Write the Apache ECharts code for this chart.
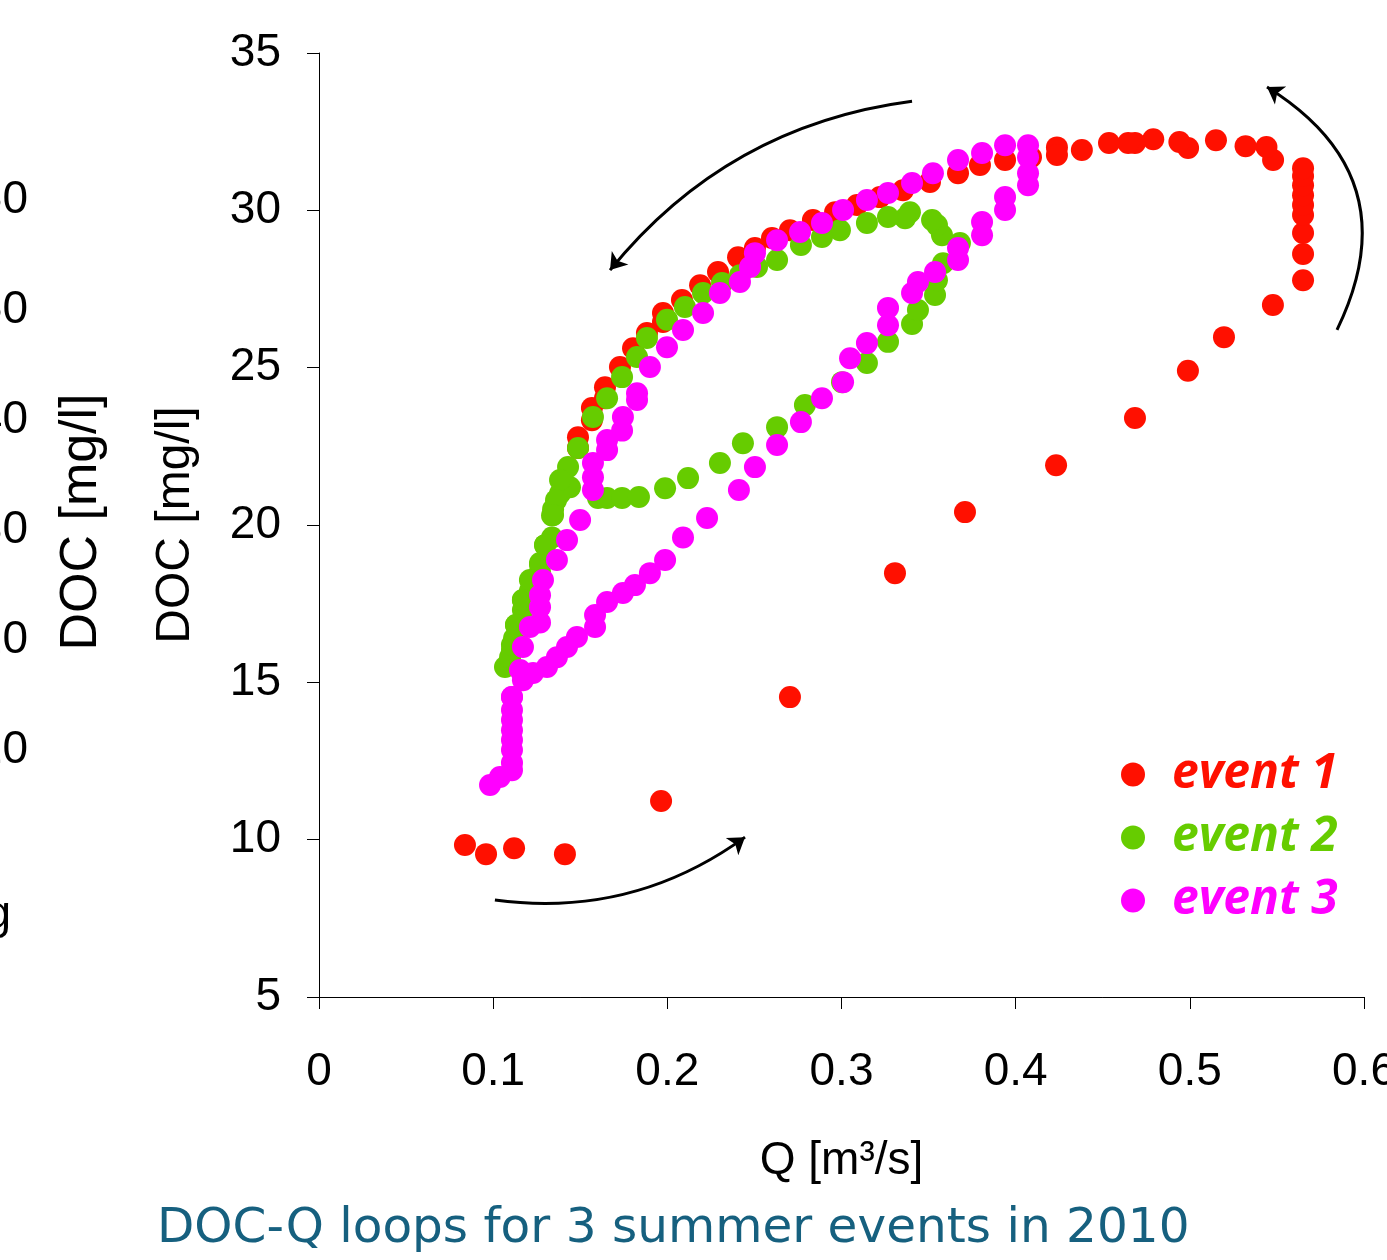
<!DOCTYPE html>
<html>
<head>
<meta charset="utf-8">
<script src="https://cdn.jsdelivr.net/npm/echarts@6/dist/echarts.min.js"></script>
<style>
  html, body { margin: 0; padding: 0; background: #fff; overflow: hidden; }
  #chart { width: 1387px; height: 1260px; }
</style>
</head>
<body>
<div id="chart"></div>
<script>
// Q [m3/s] and DOC [mg/l]
const event1Q = [0.0838, 0.0959, 0.112, 0.1412, 0.1964, 0.2704, 0.3307, 0.3709, 0.4232, 0.4685, 0.4989, 0.5196, 0.5477, 0.565, 0.565, 0.565, 0.565, 0.565, 0.565, 0.565, 0.565, 0.565, 0.5478, 0.544, 0.532, 0.515, 0.499, 0.494, 0.479, 0.4685, 0.4646, 0.4536, 0.438, 0.4237, 0.4237, 0.4088, 0.3939, 0.3795, 0.3669, 0.3508, 0.3353, 0.3221, 0.3089, 0.2963, 0.2836, 0.2704, 0.2601, 0.2503, 0.2406, 0.2291, 0.2188, 0.2084, 0.1975, 0.1975, 0.1883, 0.1803, 0.1728, 0.1642, 0.1642, 0.1567, 0.1567, 0.1487, 0.1487]
const event1Doc = [9.83, 9.54, 9.73, 9.54, 11.23, 14.53, 18.47, 20.41, 21.9, 23.4, 24.9, 25.97, 26.99, 27.78, 28.61, 29.28, 29.85, 30.17, 30.48, 30.8, 31.09, 31.34, 31.6, 32.01, 32.04, 32.23, 31.98, 32.17, 32.26, 32.14, 32.14, 32.14, 31.92, 32.0, 31.76, 31.69, 31.6, 31.44, 31.18, 30.9, 30.64, 30.42, 30.17, 29.94, 29.69, 29.37, 29.12, 28.8, 28.51, 28.04, 27.62, 27.15, 26.74, 26.45, 26.1, 25.62, 25.02, 24.38, 24.03, 23.72, 23.33, 22.79, 22.45]

const event2Q = [0.1068, 0.1097, 0.1097, 0.1108, 0.112, 0.1131, 0.1171, 0.1171, 0.1211, 0.1229, 0.1269, 0.1269, 0.1298, 0.1338, 0.1338, 0.1344, 0.1384, 0.1395, 0.1441, 0.1602, 0.1654, 0.174, 0.1837, 0.1987, 0.2119, 0.2302, 0.2434, 0.263, 0.279, 0.3003, 0.3146, 0.3267, 0.3405, 0.3439, 0.3537, 0.3548, 0.3583, 0.368, 0.3577, 0.3548, 0.352, 0.3393, 0.3365, 0.3267, 0.3146, 0.2991, 0.2888, 0.2767, 0.263, 0.2515, 0.2417, 0.2314, 0.2205, 0.2101, 0.1998, 0.1883, 0.1826, 0.174, 0.1654, 0.1573, 0.1487, 0.143, 0.1384, 0.1361, 0.1344, 0.1298, 0.1269, 0.1211, 0.1171, 0.1131, 0.1108]
const event2Doc = [15.49, 15.55, 15.8, 16.03, 16.4, 16.82, 17.3, 17.62, 17.9, 18.25, 18.5, 18.79, 19.36, 19.6, 20.3, 20.5, 21.0, 21.43, 21.2, 20.86, 20.86, 20.86, 20.89, 21.17, 21.49, 21.97, 22.6, 23.11, 23.81, 24.54, 25.15, 25.82, 26.39, 26.83, 27.31, 27.78, 28.32, 28.96, 29.21, 29.53, 29.69, 29.94, 29.75, 29.79, 29.6, 29.37, 29.15, 28.9, 28.42, 28.2, 27.94, 27.69, 27.37, 26.93, 26.52, 25.94, 25.34, 24.7, 24.03, 23.43, 22.45, 21.84, 21.43, 20.79, 20.32, 19.36, 18.73, 18.25, 17.62, 16.82, 16.19]

const event3Q = [0.0982, 0.1039, 0.1108, 0.1108, 0.1108, 0.1108, 0.1108, 0.1108, 0.1108, 0.1108, 0.1171, 0.1229, 0.1309, 0.1366, 0.1424, 0.1481, 0.1585, 0.1585, 0.1654, 0.1745, 0.1814, 0.19, 0.1987, 0.209, 0.2228, 0.2411, 0.2503, 0.263, 0.2767, 0.2888, 0.3009, 0.3049, 0.3146, 0.3267, 0.3267, 0.3405, 0.3439, 0.3537, 0.3669, 0.3669, 0.3807, 0.3807, 0.3939, 0.3939, 0.4071, 0.4071, 0.4071, 0.4071, 0.3939, 0.3807, 0.3669, 0.3525, 0.3405, 0.3267, 0.3146, 0.3009, 0.2888, 0.2762, 0.263, 0.2503, 0.2475, 0.2417, 0.2302, 0.2205, 0.209, 0.1998, 0.19, 0.1826, 0.1826, 0.1745, 0.174, 0.1654, 0.1654, 0.1573, 0.1573, 0.1573, 0.1499, 0.1424, 0.1366, 0.1286, 0.1269, 0.1269, 0.1269, 0.1211, 0.1171, 0.1154, 0.1108]
const event3Doc = [11.74, 11.99, 12.21, 12.44, 12.85, 13.17, 13.48, 13.8, 14.12, 14.53, 15.07, 15.3, 15.49, 15.8, 16.12, 16.44, 16.76, 17.14, 17.55, 17.84, 18.09, 18.47, 18.89, 19.6, 20.22, 21.11, 21.84, 22.54, 23.27, 24.03, 24.54, 25.3, 25.78, 26.35, 26.9, 27.37, 27.72, 28.04, 28.42, 28.8, 29.21, 29.63, 30.01, 30.42, 30.8, 31.18, 31.69, 32.07, 32.07, 31.82, 31.6, 31.18, 30.87, 30.55, 30.33, 30.01, 29.6, 29.31, 29.05, 28.64, 28.2, 27.72, 27.37, 26.74, 26.2, 25.65, 25.02, 24.19, 23.97, 23.43, 23.0, 22.7, 22.38, 21.97, 21.52, 21.11, 20.16, 19.52, 18.89, 18.25, 17.77, 17.39, 16.9, 16.76, 16.12, 15.39, 14.53]

const eventNames = ['event 1', 'event 2', 'event 3']
const eventColors = ['#ff1000', '#66cc00', '#ff00ff']

// hand-drawn direction arrows, start and end in data units
const arrowFrom = [[0.3405, 33.47], [0.101, 8.08], [0.5845, 26.2]]
const arrowTo = [[0.1671, 28.1], [0.2446, 10.08], [0.5443, 33.92]]
const arrowBend = [-0.2, -0.2, -0.45]

const xTicks = { min: 0, max: 0.6, interval: 0.1 }
const yTicks = { min: 5, max: 35, interval: 5 }

const pairs = (xs, ys) => xs.map((x, i) => [x, ys[i]])
const eventData = [pairs(event1Q, event1Doc), pairs(event2Q, event2Doc), pairs(event3Q, event3Doc)]

const chart = echarts.init(document.getElementById('chart'))

const axisFont = { fontFamily: 'Liberation Sans, Arial, sans-serif', fontSize: 46, color: '#000' }

const option = {
  animation: false,
  backgroundColor: '#fff',
  // the 0.6 label runs off the picture edge, so do not let the grid shrink for it
  grid: { left: 319, right: 23, top: 53, bottom: 263, containLabel: false, outerBoundsMode: 'none' },
  xAxis: {
    type: 'value',
    min: xTicks.min, max: xTicks.max, interval: xTicks.interval,
    name: 'Q [m³/s]',
    nameLocation: 'middle',
    nameGap: 141,
    nameTextStyle: axisFont,
    axisLine: { lineStyle: { color: '#000', width: 1 } },
    axisTick: { show: true, length: 12, lineStyle: { color: '#000' } },
    axisLabel: Object.assign({ margin: 52 }, axisFont),
    splitLine: { show: false }
  },
  yAxis: {
    type: 'value',
    min: yTicks.min, max: yTicks.max, interval: yTicks.interval,
    name: 'DOC [mg/l]',
    nameLocation: 'middle',
    nameGap: 119,
    nameRotate: 90,
    nameTextStyle: Object.assign({}, axisFont, { fontSize: 48 }),
    axisLine: { show: true, lineStyle: { color: '#000', width: 1 } },
    axisTick: { show: true, length: 12, lineStyle: { color: '#000' } },
    axisLabel: Object.assign({ margin: 38 }, axisFont),
    splitLine: { show: false }
  },
  legend: {
    orient: 'vertical',
    left: 1121,
    top: 748,
    padding: 0,
    itemWidth: 24,
    itemHeight: 24,
    itemGap: 10,
    icon: 'circle',
    data: eventNames.map((n, i) => ({
      name: n,
      textStyle: { color: eventColors[i] }
    })),
    textStyle: {
      fontFamily: 'Open Sans, Lato, sans-serif',
      fontStyle: 'italic',
      fontWeight: 'bold',
      fontSize: 48,
      lineHeight: 53,
      padding: [0, 0, 0, 22]
    }
  },
  title: {
    text: 'DOC-Q loops for 3 summer events in 2010',
    left: 157,
    top: 1205,
    padding: 0,
    textStyle: {
      fontFamily: 'DejaVu Sans, Verdana, sans-serif',
      fontWeight: 'normal',
      fontSize: 48.5,
      color: '#16607f'
    }
  },
  graphic: [
    // leftovers of the neighbouring panel, cut by the picture edge
    ...['60', '50', '40', '30', '20', '10'].map((t, i) => ({
      type: 'text', x: 28, y: 200 + i * 110,
      style: { text: t, textAlign: 'right', textVerticalAlign: 'middle', font: '46px Liberation Sans, Arial, sans-serif', fill: '#000' }
    })),
    {
      type: 'text', x: 11, y: 915,
      style: { text: 'mg', textAlign: 'right', textVerticalAlign: 'middle', font: '46px Liberation Sans, Arial, sans-serif', fill: '#000' }
    },
    {
      type: 'text', x: 82, y: 522, rotation: Math.PI / 2,
      style: { text: 'DOC [mg/l]', textAlign: 'center', textVerticalAlign: 'middle', font: '52px Liberation Sans, Arial, sans-serif', fill: '#000' }
    }
  ],
  series: [
    ...eventNames.map((n, i) => ({
      name: n,
      type: 'scatter',
      data: eventData[i],
      symbol: 'circle',
      symbolSize: 22,
      itemStyle: { color: eventColors[i], opacity: 1 },
      z: 2 + i
    })),
    {
      name: 'arrows',
      type: 'lines',
      coordinateSystem: 'cartesian2d',
      symbol: ['none', 'arrow'],
      symbolSize: 16,
      lineStyle: { color: '#000', width: 3, opacity: 1 },
      z: 10,
      data: arrowFrom.map((p, i) => ({
        coords: [p, arrowTo[i]],
        lineStyle: { curveness: arrowBend[i] }
      }))
    }
  ]
}

chart.setOption(option)
</script>
</body>
</html>
